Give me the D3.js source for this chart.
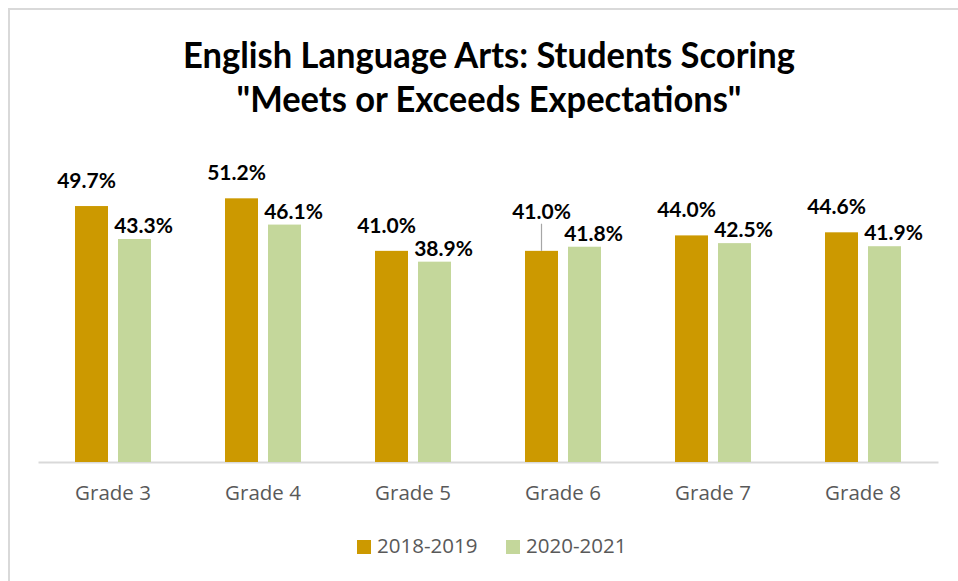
<!DOCTYPE html>
<html>
<head>
<meta charset="utf-8">
<script src="https://cdn.jsdelivr.net/npm/d3@7"></script>
<style>
  html, body { margin: 0; padding: 0; background: #fff; }
  svg { display: block; }
</style>
</head>
<body>
<svg id="chart" width="958" height="581"></svg>
<script>
const categories = ["Grade 3", "Grade 4", "Grade 5", "Grade 6", "Grade 7", "Grade 8"];
const seriesNames = ["2018-2019", "2020-2021"];
const values2018 = [49.7, 51.2, 41.0, 41.0, 44.0, 44.6];
const values2020 = [43.3, 46.1, 38.9, 41.8, 42.5, 41.9];
const seriesColors = ["#CC9900", "#C4D79B"];
const titleLines = ["English Language Arts: Students Scoring", "\"Meets or Exceeds Expectations\""];

const svg = d3.select("#chart");
const W = 958, H = 581;

// frame
svg.append("rect").attr("x", 9).attr("y", 9).attr("width", W).attr("height", H)
  .attr("fill", "#fff").attr("stroke", "#d9d9d9").attr("stroke-width", 2);

// title
const titleWidths = [612, 505];
const title = svg.append("text").attr("text-anchor", "middle")
  .attr("font-family", "'Liberation Sans Narrow', Lato, sans-serif").attr("font-weight", "bold")
  .attr("font-size", 36).attr("fill", "#000");
title.selectAll("tspan").data(titleLines).join("tspan")
  .attr("x", 489).attr("y", (d, i) => 68 + i * 44).text(d => d)
  .attr("textLength", (d, i) => titleWidths[i]).attr("lengthAdjust", "spacingAndGlyphs");

const plot = { left: 38, right: 938, top: 153, bottom: 462 };

const x = d3.scaleBand().domain(categories).range([plot.left, plot.right]).paddingInner(0).paddingOuter(0);
const xs = d3.scaleBand().domain(seriesNames).range([37, 113]).paddingInner(10 / 43).paddingOuter(0);
const y = d3.scaleLinear().domain([0, 60]).range([plot.bottom, plot.top]);

const data = categories.map((c, i) => ({ cat: c, vals: [values2018[i], values2020[i]] }));

// axis
const xAxis = svg.append("g").attr("transform", `translate(0,${plot.bottom})`)
  .call(d3.axisBottom(x).tickSize(0).tickPadding(0));
xAxis.select(".domain").attr("stroke", "#d9d9d9").attr("stroke-width", 2);
xAxis.selectAll("text").attr("font-family", "'Open Sans', sans-serif").attr("font-size", 20.5)
  .attr("fill", "#595959").attr("dy", null).attr("y", 38);

// bars
const groups = svg.selectAll("g.cat").data(data).join("g").attr("class", "cat")
  .attr("transform", d => `translate(${x(d.cat)},0)`);
groups.selectAll("rect").data(d => d.vals.map((v, k) => ({ s: seriesNames[k], v, k })))
  .join("rect")
  .attr("x", d => xs(d.s)).attr("width", xs.bandwidth())
  .attr("y", d => y(d.v)).attr("height", d => y(0) - y(d.v))
  .attr("fill", d => seriesColors[d.k]);

// data labels
const lblFont = "Lato, 'Open Sans', sans-serif";
data.forEach(d => {
  const x0 = x(d.cat);
  const o = { v: d.vals[0], cx: x0 + xs(seriesNames[0]) + xs.bandwidth() / 2 - 5, by: y(d.vals[0]) - 18 };
  const g = { v: d.vals[1], cx: x0 + xs(seriesNames[1]) + xs.bandwidth() / 2 + 9, by: y(d.vals[1]) - 6 };
  // avoid collision: lift first label above the second one
  let leader = false;
  if (o.by > g.by - 18) { o.by = g.by - 22; leader = true; o.cx = x0 + xs(seriesNames[0]) + xs.bandwidth() / 2; }
  if (leader) {
    svg.append("line").attr("x1", o.cx).attr("x2", o.cx)
      .attr("y1", o.by + 5).attr("y2", y(d.vals[0]))
      .attr("stroke", "#a6a6a6").attr("stroke-width", 1.2);
  }
  [o, g].forEach(l => {
    svg.append("text").attr("x", l.cx).attr("y", l.by).attr("text-anchor", "middle")
      .attr("font-family", lblFont).attr("font-weight", "bold").attr("font-size", 21)
      .attr("fill", "#000").text(d3.format(".1f")(l.v) + "%");
  });
});

// legend
const legend = svg.append("g");
const legX = [357, 506];
seriesNames.forEach((s, i) => {
  legend.append("rect").attr("x", legX[i]).attr("y", 540).attr("width", 14).attr("height", 14)
    .attr("fill", seriesColors[i]);
  legend.append("text").attr("x", legX[i] + 20).attr("y", 553)
    .attr("font-family", "'Open Sans', sans-serif").attr("font-size", 20.5).attr("fill", "#595959")
    .text(s);
});
</script>
</body>
</html>
